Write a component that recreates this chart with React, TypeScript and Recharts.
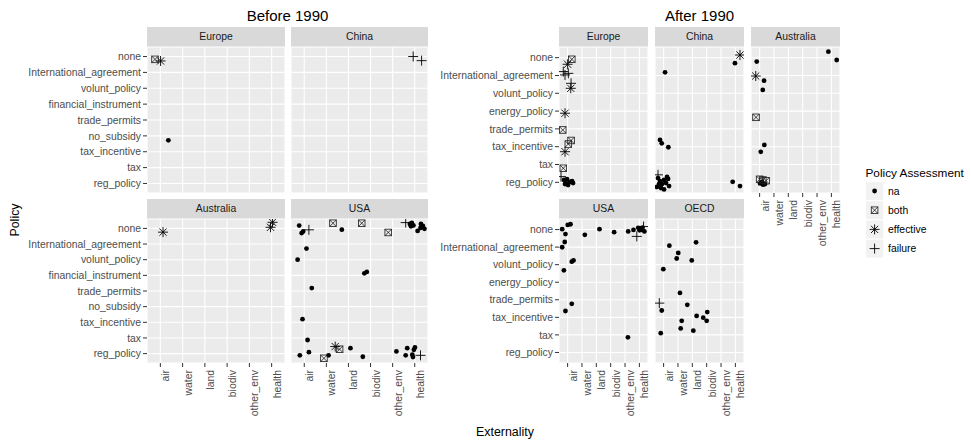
import React from "react";
import { ScatterChart, Scatter, XAxis, YAxis, CartesianGrid } from "recharts";

type Row = [string, number, string, number, string];

const EXT = ["air", "water", "land", "biodiv", "other_env", "health"];
const POL_BEFORE = ["none", "International_agreement", "volunt_policy", "financial_instrument", "trade_permits", "no_subsidy", "tax_incentive", "tax", "reg_policy"];
const POL_AFTER = ["none", "International_agreement", "volunt_policy", "energy_policy", "trade_permits", "tax_incentive", "tax", "reg_policy"];
const ASSESS = ["na", "both", "effective", "failure"];

// [externality, jitter x, policy, jitter y (down +), assessment]
const beforeEurope: Row[] = [
  ["air", -0.24, "none", 0.18, "both"],
  ["air", 0.01, "none", 0.28, "effective"],
  ["air", 0.36, "no_subsidy", 0.28, "na"],
];
const beforeChina: Row[] = [
  ["health", -0.07, "none", 0, "failure"],
  ["health", 0.31, "none", 0.26, "failure"],
];
const beforeAustralia: Row[] = [
  ["air", 0.12, "none", 0.24, "effective"],
  ["health", 0.04, "none", -0.39, "effective"],
  ["health", -0.05, "none", -0.07, "effective"],
];
const beforeUSA: Row[] = [
  ["air", -0.23, "none", -0.18, "na"],
  ["air", -0.12, "none", 0.3, "na"],
  ["air", -0.05, "none", 0.2, "na"],
  ["air", 0.21, "none", 0.09, "failure"],
  ["water", 0.3, "none", -0.33, "both"],
  ["land", -0.3, "none", 0.08, "na"],
  ["biodiv", -0.4, "none", -0.33, "both"],
  ["other_env", -0.2, "none", 0.26, "both"],
  ["health", -0.41, "none", -0.37, "failure"],
  ["health", -0.22, "none", -0.28, "na"],
  ["health", -0.13, "none", -0.35, "na"],
  ["health", -0.06, "none", -0.19, "na"],
  ["health", -0.17, "none", -0.13, "na"],
  ["health", 0.13, "none", 0.16, "na"],
  ["health", 0.28, "none", -0.28, "na"],
  ["health", 0.37, "none", -0.16, "na"],
  ["health", 0.44, "none", 0.03, "na"],
  ["health", 0.26, "none", -0.03, "na"],
  ["air", 0.1, "International_agreement", 0.29, "na"],
  ["air", -0.3, "volunt_policy", 0, "na"],
  ["biodiv", -0.28, "financial_instrument", -0.13, "na"],
  ["biodiv", -0.17, "financial_instrument", -0.22, "na"],
  ["air", 0.34, "trade_permits", -0.19, "na"],
  ["air", -0.08, "tax_incentive", -0.2, "na"],
  ["air", 0.15, "tax", 0.13, "na"],
  ["air", 0.21, "reg_policy", -0.09, "na"],
  ["air", -0.2, "reg_policy", 0.11, "na"],
  ["water", -0.11, "reg_policy", 0.3, "both"],
  ["water", 0.1, "reg_policy", 0.11, "na"],
  ["water", 0.4, "reg_policy", -0.45, "effective"],
  ["land", -0.4, "reg_policy", -0.28, "both"],
  ["land", 0.09, "reg_policy", -0.35, "na"],
  ["biodiv", -0.35, "reg_policy", 0.2, "na"],
  ["other_env", 0.17, "reg_policy", -0.14, "na"],
  ["health", -0.41, "reg_policy", 0.11, "na"],
  ["health", -0.34, "reg_policy", -0.35, "na"],
  ["health", -0.11, "reg_policy", 0.07, "na"],
  ["health", -0.04, "reg_policy", -0.24, "na"],
  ["health", 0.01, "reg_policy", -0.39, "na"],
  ["health", -0.08, "reg_policy", 0.22, "na"],
  ["health", 0.26, "reg_policy", 0.11, "failure"],
];

const afterEurope: Row[] = [
  ["air", 0.29, "none", 0.09, "both"],
  ["air", 0, "none", 0.37, "effective"],
  ["air", -0.3, "International_agreement", -0.22, "failure"],
  ["air", -0.18, "International_agreement", -0.03, "failure"],
  ["air", 0.05, "International_agreement", -0.12, "failure"],
  ["air", 0.24, "International_agreement", 0.44, "failure"],
  ["air", 0.22, "volunt_policy", -0.28, "effective"],
  ["air", -0.18, "energy_policy", 0.12, "effective"],
  ["air", -0.34, "trade_permits", 0.06, "both"],
  ["air", 0.24, "tax_incentive", -0.35, "both"],
  ["air", 0.05, "tax_incentive", -0.15, "both"],
  ["air", -0.18, "tax_incentive", 0.28, "effective"],
  ["air", -0.3, "tax", 0.21, "both"],
  ["air", -0.46, "reg_policy", -0.32, "failure"],
  ["air", -0.25, "reg_policy", -0.13, "na"],
  ["air", -0.11, "reg_policy", 0.04, "na"],
  ["air", 0.03, "reg_policy", 0.15, "na"],
  ["air", 0.17, "reg_policy", -0.02, "na"],
  ["air", 0.31, "reg_policy", -0.07, "na"],
  ["air", 0.38, "reg_policy", 0.04, "na"],
  ["air", -0.04, "reg_policy", -0.18, "na"],
  ["air", -0.18, "reg_policy", 0.1, "na"],
];
const afterChina: Row[] = [
  ["health", 0.32, "none", -0.15, "effective"],
  ["health", -0.03, "none", 0.31, "na"],
  ["air", 0.1, "International_agreement", -0.18, "na"],
  ["air", -0.25, "tax_incentive", -0.38, "na"],
  ["air", -0.13, "tax_incentive", -0.19, "na"],
  ["air", 0.33, "tax_incentive", 0.03, "na"],
  ["air", -0.39, "reg_policy", -0.42, "failure"],
  ["air", -0.39, "reg_policy", -0.24, "na"],
  ["air", -0.25, "reg_policy", -0.07, "na"],
  ["air", -0.11, "reg_policy", 0.1, "na"],
  ["air", 0.03, "reg_policy", -0.13, "na"],
  ["air", 0.17, "reg_policy", 0.04, "na"],
  ["air", 0.31, "reg_policy", -0.19, "na"],
  ["air", 0.38, "reg_policy", 0.21, "na"],
  ["air", -0.46, "reg_policy", 0.26, "na"],
  ["air", -0.18, "reg_policy", 0.32, "na"],
  ["air", 0.03, "reg_policy", 0.4, "na"],
  ["air", 0.24, "reg_policy", -0.3, "na"],
  ["air", -0.32, "reg_policy", 0.1, "na"],
  ["health", -0.19, "reg_policy", -0.03, "na"],
  ["health", 0.32, "reg_policy", 0.21, "na"],
];
const afterAustralia: Row[] = [
  ["health", -0.21, "none", -0.34, "na"],
  ["health", 0.37, "none", 0.13, "na"],
  ["air", -0.2, "none", 0.22, "na"],
  ["air", -0.27, "International_agreement", 0.03, "effective"],
  ["air", 0.31, "International_agreement", 0.29, "na"],
  ["air", 0.22, "volunt_policy", -0.19, "na"],
  ["air", -0.25, "energy_policy", 0.35, "both"],
  ["air", 0.33, "tax_incentive", -0.1, "na"],
  ["air", 0.08, "tax_incentive", 0.29, "na"],
  ["air", 0, "reg_policy", -0.17, "both"],
  ["air", 0.22, "reg_policy", -0.13, "both"],
  ["air", 0.45, "reg_policy", -0.09, "both"],
  ["air", 0.03, "reg_policy", 0.06, "na"],
  ["air", 0.24, "reg_policy", 0.13, "na"],
  ["air", 0.17, "reg_policy", -0.02, "na"],
  ["air", 0.38, "reg_policy", 0.1, "na"],
];
const afterUSA: Row[] = [
  ["air", -0.38, "none", -0.02, "na"],
  ["air", 0.01, "none", -0.26, "na"],
  ["air", 0.2, "none", -0.3, "na"],
  ["air", -0.15, "none", 0.26, "na"],
  ["air", -0.2, "International_agreement", -0.29, "na"],
  ["air", -0.38, "International_agreement", 0.01, "na"],
  ["water", 0.2, "none", 0.3, "na"],
  ["land", 0.22, "none", -0.02, "na"],
  ["biodiv", 0.24, "none", 0.15, "na"],
  ["other_env", 0.22, "none", 0.11, "na"],
  ["health", -0.41, "none", 0.02, "na"],
  ["health", -0.08, "none", -0.1, "na"],
  ["health", 0.08, "none", -0.07, "na"],
  ["health", 0.22, "none", -0.11, "na"],
  ["health", 0.01, "none", 0.04, "na"],
  ["health", 0.18, "none", 0.02, "na"],
  ["health", 0.35, "none", 0.11, "na"],
  ["health", 0.29, "none", -0.17, "failure"],
  ["health", -0.18, "none", 0.39, "failure"],
  ["air", 0.29, "volunt_policy", -0.17, "na"],
  ["air", 0.41, "volunt_policy", -0.24, "na"],
  ["air", -0.26, "volunt_policy", 0.32, "na"],
  ["air", 0.29, "trade_permits", 0.23, "na"],
  ["air", -0.15, "tax_incentive", -0.36, "na"],
  ["other_env", 0.2, "tax", 0.14, "na"],
];
const afterOECD: Row[] = [
  ["air", 0.4, "International_agreement", -0.08, "na"],
  ["land", 0.26, "International_agreement", -0.27, "na"],
  ["water", 0.02, "International_agreement", 0.33, "na"],
  ["water", -0.09, "volunt_policy", -0.35, "na"],
  ["land", -0.04, "volunt_policy", -0.24, "na"],
  ["air", -0.02, "volunt_policy", 0.26, "na"],
  ["water", 0.14, "trade_permits", -0.39, "na"],
  ["air", -0.3, "trade_permits", 0.19, "failure"],
  ["air", -0.13, "tax_incentive", -0.39, "na"],
  ["land", -0.35, "trade_permits", 0.29, "na"],
  ["land", 0.3, "tax_incentive", -0.08, "na"],
  ["biodiv", -0.24, "tax_incentive", 0.02, "na"],
  ["biodiv", 0.04, "tax_incentive", -0.3, "na"],
  ["biodiv", 0, "tax_incentive", 0.2, "na"],
  ["water", 0.26, "tax_incentive", 0.2, "na"],
  ["water", 0.19, "tax", -0.37, "na"],
  ["land", 0.07, "tax", -0.24, "na"],
  ["air", -0.2, "tax", -0.1, "na"],
];

const FONT = "'Liberation Sans', Arial, Helvetica, sans-serif";
const AXIS_TEXT = "#4D4D4D";
const FS = 10.4;

function DotShape({ cx, cy }: any) {
  return <circle cx={cx} cy={cy} r={2.4} fill="#000" />;
}
function PlusShape({ cx, cy }: any) {
  const s = 5;
  return <path d={`M${cx - s},${cy}H${cx + s}M${cx},${cy - s}V${cy + s}`} stroke="#000" strokeWidth={0.9} fill="none" />;
}
function StarShape({ cx, cy }: any) {
  const s = 5, d = 3.6;
  return (
    <path
      d={`M${cx - s},${cy}H${cx + s}M${cx},${cy - s}V${cy + s}M${cx - d},${cy - d}L${cx + d},${cy + d}M${cx - d},${cy + d}L${cx + d},${cy - d}`}
      stroke="#000" strokeWidth={0.9} fill="none"
    />
  );
}
function BothShape({ cx, cy }: any) {
  const s = 3.3;
  return (
    <g stroke="#1A1A1A" strokeWidth={0.8} fill="none">
      <rect x={cx - s} y={cy - s} width={2 * s} height={2 * s} />
      <path d={`M${cx - s},${cy - s}L${cx + s},${cy + s}M${cx - s},${cy + s}L${cx + s},${cy - s}`} />
    </g>
  );
}
const SHAPES: Record<string, any> = { na: DotShape, both: BothShape, effective: StarShape, failure: PlusShape };

function XTick({ x, y, payload }: any) {
  const label = EXT[Math.round(payload.value) - 1];
  return (
    <g transform={`translate(${x + 9},${y + 1})`}>
      <text transform="rotate(-90)" textAnchor="end" fill={AXIS_TEXT} fontSize={FS} fontFamily={FONT}>
        {label}
      </text>
    </g>
  );
}

type PanelProps = {
  title: string; rows: Row[]; pols: string[]; left: number; top: number; w: number; h: number;
  showY: boolean; showX: boolean; yw: number;
};

function Panel({ title, rows, pols, left, top, w, h, showY, showX, yw }: PanelProps) {
  const xh = showX ? 64 : 0;
  const ywid = showY ? yw : 0;
  const ticksY = pols.map((_, i) => i + 1);
  return (
    <>
      <div
        style={{
          position: "absolute", left, top: top - 20.5, width: w, height: 20.5, background: "#D9D9D9",
          color: "#1A1A1A", fontSize: FS, fontFamily: FONT, textAlign: "center", lineHeight: "20.5px",
        }}
      >
        {title}
      </div>
      <div style={{ position: "absolute", left: left - ywid, top }}>
        <ScatterChart width={w + ywid} height={h + xh} margin={{ top: 0, right: 0, bottom: 0, left: 0 }}>
          <CartesianGrid fill="#EBEBEB" stroke="#FFFFFF" strokeWidth={1.1} />
          <XAxis
            type="number" dataKey="x" domain={[0.4, 6.6]} ticks={[1, 2, 3, 4, 5, 6]} interval={0}
            allowDataOverflow hide={!showX} height={xh} tick={<XTick />} tickSize={4}
            tickLine={{ stroke: "#333333" }} axisLine={false}
          />
          <YAxis
            type="number" dataKey="y" reversed domain={[0.4, pols.length + 0.6]} ticks={ticksY} interval={0}
            allowDataOverflow hide={!showY} width={ywid} tickSize={4} tickLine={{ stroke: "#333333" }}
            axisLine={false} tickFormatter={(v: number) => pols[Math.round(v) - 1]}
            tick={{ fill: AXIS_TEXT, fontSize: FS, fontFamily: FONT }}
          />
          {ASSESS.map((a) => {
            const Shape = SHAPES[a];
            const data = rows
              .filter((r) => r[4] === a)
              .map((r) => ({ x: EXT.indexOf(r[0]) + 1 + r[1], y: pols.indexOf(r[2]) + 1 + r[3] }));
            return (
              <Scatter key={a} name={a} data={data} isAnimationActive={false} shape={(p: any) => <Shape {...p} />} />
            );
          })}
        </ScatterChart>
      </div>
    </>
  );
}

function Legend() {
  return (
    <svg style={{ position: "absolute", left: 860, top: 160 }} width={111} height={110}>
      <text x={5.5} y={16.5} fontSize={11.8} fontFamily={FONT} fill="#000">Policy Assessment</text>
      {ASSESS.map((a, i) => {
        const cy = 31 + i * 19.2;
        const Shape = SHAPES[a];
        return (
          <g key={a}>
            <rect x={6} y={cy - 9} width={17.3} height={18} fill="#F2F2F2" />
            <Shape cx={14.6} cy={cy} />
            <text x={28} y={cy + 3.7} fontSize={FS} fontFamily={FONT} fill="#000">{a}</text>
          </g>
        );
      })}
    </svg>
  );
}

export default function App() {
  const TOP1 = 47, H1 = 146, TOP2 = 219, H2 = 144;
  return (
    <div style={{ position: "absolute", left: 0, top: 0, width: 971, height: 441, background: "#FFFFFF", overflow: "hidden" }}>
      <style>{"svg.recharts-surface{overflow:visible}"}</style>
      <svg style={{ position: "absolute", left: 0, top: 0 }} width={971} height={441}>
        <text x={287.5} y={20.5} textAnchor="middle" fontSize={15} fontFamily={FONT} fill="#000">Before 1990</text>
        <text x={699.5} y={20.5} textAnchor="middle" fontSize={15} fontFamily={FONT} fill="#000">After 1990</text>
        <text transform="translate(19,220) rotate(-90)" textAnchor="middle" fontSize={12.4} fontFamily={FONT} fill="#000">Policy</text>
        <text x={505} y={436} textAnchor="middle" fontSize={12.4} fontFamily={FONT} fill="#000">Externality</text>
      </svg>

      <Panel title="Europe" rows={beforeEurope} pols={POL_BEFORE} left={147} top={TOP1} w={138} h={H1} showY showX={false} yw={140} />
      <Panel title="China" rows={beforeChina} pols={POL_BEFORE} left={291} top={TOP1} w={137} h={H1} showY={false} showX={false} yw={0} />
      <Panel title="Australia" rows={beforeAustralia} pols={POL_BEFORE} left={147} top={TOP2} w={138} h={H2} showY showX yw={140} />
      <Panel title="USA" rows={beforeUSA} pols={POL_BEFORE} left={291} top={TOP2} w={137} h={H2} showY={false} showX yw={0} />

      <Panel title="Europe" rows={afterEurope} pols={POL_AFTER} left={559} top={TOP1} w={89} h={H1} showY showX={false} yw={124} />
      <Panel title="China" rows={afterChina} pols={POL_AFTER} left={655} top={TOP1} w={89} h={H1} showY={false} showX={false} yw={0} />
      <Panel title="Australia" rows={afterAustralia} pols={POL_AFTER} left={751} top={TOP1} w={89} h={H1} showY={false} showX yw={0} />
      <Panel title="USA" rows={afterUSA} pols={POL_AFTER} left={559} top={TOP2} w={89} h={H2} showY showX yw={124} />
      <Panel title="OECD" rows={afterOECD} pols={POL_AFTER} left={655} top={TOP2} w={89} h={H2} showY={false} showX yw={0} />

      <Legend />
    </div>
  );
}
